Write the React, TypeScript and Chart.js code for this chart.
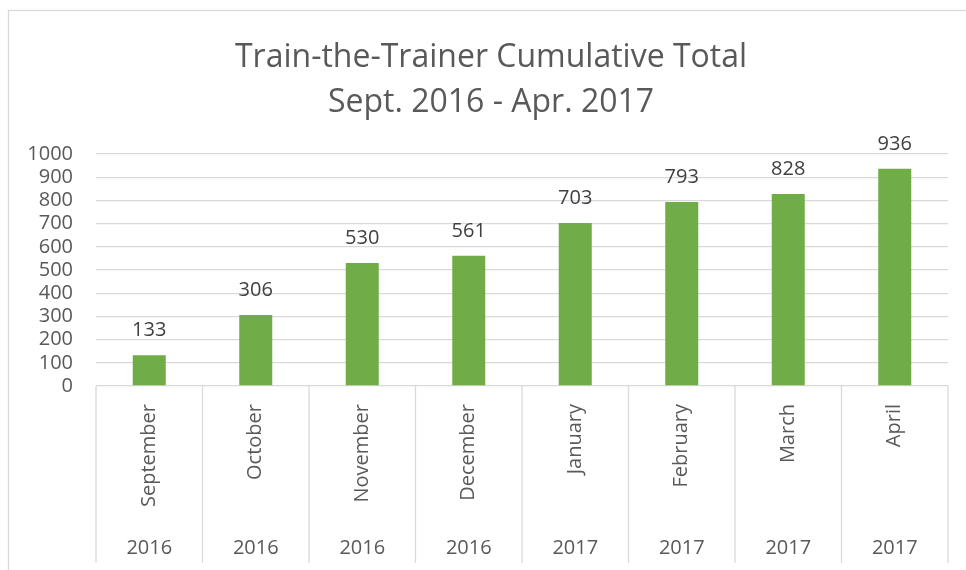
import React, { useEffect, useRef } from 'react';
import { Chart, registerables } from 'chart.js';

Chart.register(...registerables);

const months = ['September', 'October', 'November', 'December', 'January', 'February', 'March', 'April'];
const years = ['2016', '2016', '2016', '2016', '2017', '2017', '2017', '2017'];
const totals = [133, 306, 530, 561, 703, 793, 828, 936];
const titleLines = ['Train-the-Trainer Cumulative Total', 'Sept. 2016 - Apr. 2017'];
const yMin = 0;
const yMax = 1000;
const yStep = 100;

const FONT = '"Open Sans", sans-serif';
const GRID = '#d9d9d9';
const TEXT = '#595959';
const BAR = '#70ad47';

const framePlugin = {
  id: 'frame',
  beforeDraw(chart: any) {
    const ctx = chart.ctx;
    ctx.save();
    ctx.fillStyle = '#ffffff';
    ctx.fillRect(0, 0, chart.width, chart.height);
    ctx.strokeStyle = GRID;
    ctx.lineWidth = 1.3;
    ctx.strokeRect(8.5, 10.5, chart.width + 50, chart.height + 50);
    ctx.restore();
  },
};

const titlePlugin = {
  id: 'customTitle',
  afterDraw(chart: any) {
    const ctx = chart.ctx;
    ctx.save();
    ctx.font = `32px ${FONT}`;
    ctx.fillStyle = TEXT;
    ctx.textAlign = 'center';
    ctx.textBaseline = 'alphabetic';
    const cx = 491;
    ctx.fillText(titleLines[0], cx, 67);
    ctx.fillText(titleLines[1], cx, 112);
    ctx.restore();
  },
};

const separatorPlugin = {
  id: 'separators',
  afterDraw(chart: any) {
    const xs = chart.scales.x;
    const x2 = chart.scales.x2;
    const ctx = chart.ctx;
    const n = months.length;
    ctx.save();
    ctx.strokeStyle = GRID;
    ctx.lineWidth = 1.3;
    for (let i = 0; i <= n; i++) {
      let x: number;
      if (i === 0) x = xs.left;
      else if (i === n) x = xs.right;
      else x = (xs.getPixelForValue(i - 1) + xs.getPixelForValue(i)) / 2;
      ctx.beginPath();
      ctx.moveTo(x, chart.chartArea.bottom);
      ctx.lineTo(x, x2.bottom - 7);
      ctx.stroke();
    }
    ctx.restore();
  },
};

const valueLabelPlugin = {
  id: 'valueLabels',
  afterDatasetsDraw(chart: any) {
    const ctx = chart.ctx;
    const meta = chart.getDatasetMeta(0);
    ctx.save();
    ctx.font = `20px ${FONT}`;
    ctx.fillStyle = '#404040';
    ctx.textAlign = 'center';
    ctx.textBaseline = 'alphabetic';
    meta.data.forEach((bar: any, i: number) => {
      ctx.fillText(String(totals[i]), bar.x, bar.y - 19);
    });
    ctx.restore();
  },
};

export default function App() {
  const canvasRef = useRef<HTMLCanvasElement>(null);

  useEffect(() => {
    if (!canvasRef.current) return;
    const chart = new Chart(canvasRef.current, {
      type: 'bar',
      data: {
        labels: months,
        datasets: [
          {
            data: totals,
            backgroundColor: BAR,
            borderWidth: 0,
            categoryPercentage: 1,
            barPercentage: 0.31,
          },
        ],
      },
      options: {
        animation: false,
        responsive: true,
        maintainAspectRatio: false,
        layout: { padding: { left: 0, right: 18, top: 154, bottom: 0 } },
        plugins: {
          legend: { display: false },
          tooltip: { enabled: false },
          title: { display: false },
        },
        scales: {
          y: {
            min: yMin,
            max: yMax,
            ticks: {
              stepSize: yStep,
              color: TEXT,
              font: { family: FONT, size: 20 },
              padding: 23,
              autoSkip: false,
              callback: (v: any) => String(v),
            },
            grid: { color: GRID, lineWidth: 1.3, drawTicks: false },
            border: { display: false },
            afterFit(scale: any) {
              scale.width = 96;
            },
          },
          x: {
            type: 'category',
            position: 'bottom',
            weight: 0,
            ticks: {
              color: TEXT,
              font: { family: FONT, size: 20 },
              minRotation: 90,
              maxRotation: 90,
              padding: 18,
              autoSkip: false,
            },
            grid: { display: false, drawTicks: false },
            border: { display: false },
            afterFit(scale: any) {
              scale.height = 140;
            },
          },
          x2: {
            type: 'category',
            position: 'bottom',
            weight: 1,
            labels: years,
            offset: true,
            ticks: {
              color: TEXT,
              font: { family: FONT, size: 20 },
              padding: 10,
              maxRotation: 0,
              autoSkip: false,
            },
            grid: { display: false, drawTicks: false },
            border: { display: false },
            afterFit(scale: any) {
              scale.height = 44;
            },
          },
        },
      },
      plugins: [framePlugin, titlePlugin, separatorPlugin, valueLabelPlugin],
    } as any);
    return () => chart.destroy();
  }, []);

  return (
    <div style={{ position: 'absolute', left: 0, top: 0, width: 966, height: 570 }}>
      <canvas ref={canvasRef} />
    </div>
  );
}
